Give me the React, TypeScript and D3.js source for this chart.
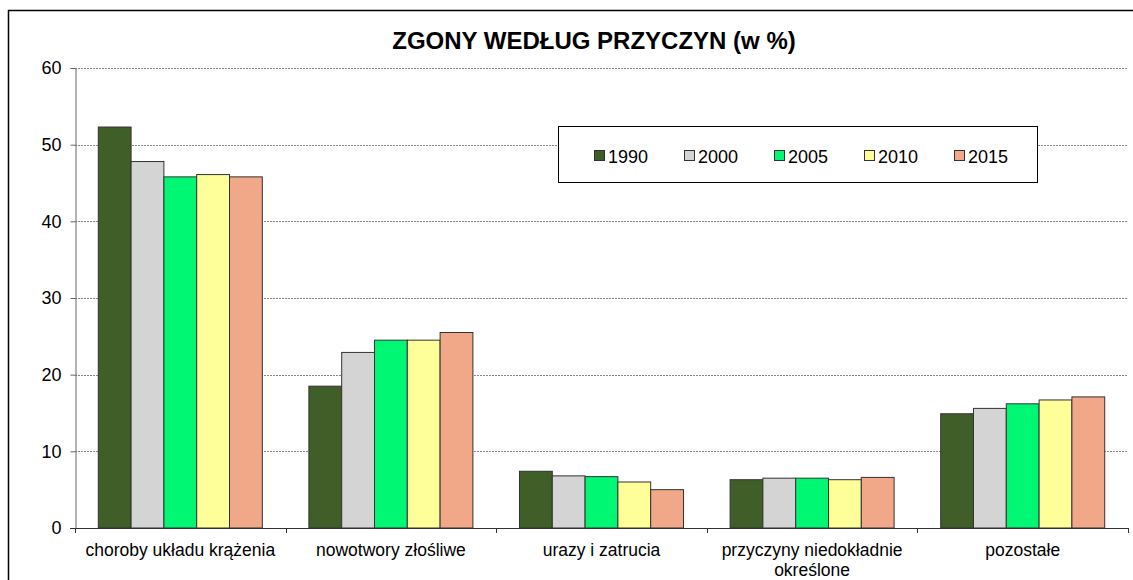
import React, { useRef, useEffect } from "react";
import * as d3 from "d3";

const categories = [
	"choroby układu krążenia",
	"nowotwory złośliwe",
	"urazy i zatrucia",
	"przyczyny niedokładnie|określone",
	"pozostałe",
];
const years = ["1990", "2000", "2005", "2010", "2015"];
const colors = ["#3f5e28", "#d4d4d4", "#00f774", "#ffff99", "#f0a889"];

const values1990 = [52.3, 18.5, 7.4, 6.3, 14.9];
const values2000 = [47.8, 22.9, 6.8, 6.5, 15.6];
const values2005 = [45.8, 24.5, 6.7, 6.5, 16.2];
const values2010 = [46.1, 24.5, 6.0, 6.3, 16.7];
const values2015 = [45.8, 25.5, 5.0, 6.6, 17.1];
const series = [values1990, values2000, values2005, values2010, values2015];

const yTicks = [0, 10, 20, 30, 40, 50, 60];

const App = () => {
	const svgRef = useRef<SVGSVGElement | null>(null);

	useEffect(() => {
		if (!svgRef.current) return;
		const svg = d3.select(svgRef.current);
		svg.selectAll("*").remove();
		const font = "'Liberation Sans', Arial, sans-serif";

		// outer frame
		svg.append("rect")
			.attr("x", 8.5).attr("y", 10.5)
			.attr("width", 1200).attr("height", 700)
			.attr("fill", "#fff").attr("stroke", "#000").attr("stroke-width", 1.5);

		const left = 75, right = 1128, top = 68, bottom = 528;
		const y = d3.scaleLinear().domain([0, 60]).range([bottom, top]);
		const x0 = d3.scaleBand<string>().domain(categories).range([left, right]).padding(0);
		const x1 = d3.scaleBand<string>().domain(years).range([0, x0.bandwidth()])
			.paddingInner(0).paddingOuter(0.71);

		// gridlines
		svg.append("g").selectAll("line")
			.data(yTicks.filter((t) => t > 0))
			.join("line")
			.attr("x1", left).attr("x2", right)
			.attr("y1", (d) => Math.round(y(d)) + 0.5).attr("y2", (d) => Math.round(y(d)) + 0.5)
			.attr("stroke", "#888").attr("stroke-dasharray", "2,1");

		// bars
		const groups = svg.append("g").selectAll("g")
			.data(categories)
			.join("g")
			.attr("transform", (d) => `translate(${x0(d)},0)`);
		groups.selectAll("rect")
			.data((_, i) => years.map((yr, j) => ({ yr, v: series[j][i], c: colors[j] })))
			.join("rect")
			.attr("x", (d) => x1(d.yr)!)
			.attr("y", (d) => y(d.v))
			.attr("width", x1.bandwidth())
			.attr("height", (d) => bottom - y(d.v))
			.attr("fill", (d) => d.c)
			.attr("stroke", "#333")
			.attr("stroke-width", 1);

		// y axis
		const yAxis = d3.axisLeft(y).tickValues(yTicks).tickSize(5).tickPadding(9);
		const gy = svg.append("g").attr("transform", `translate(${left + 0.5},0)`).call(yAxis);
		gy.select(".domain").attr("stroke", "#666");
		gy.selectAll(".tick line").attr("stroke", "#666");
		gy.selectAll(".tick text").attr("font-family", font).attr("font-size", 18).attr("fill", "#000");

		// x axis
		svg.append("line")
			.attr("x1", left - 5).attr("x2", right)
			.attr("y1", bottom + 0.5).attr("y2", bottom + 0.5)
			.attr("stroke", "#333");
		svg.append("g").selectAll("line")
			.data(d3.range(categories.length + 1))
			.join("line")
			.attr("x1", (i) => Math.round(left + i * x0.step()) + 0.5)
			.attr("x2", (i) => Math.round(left + i * x0.step()) + 0.5)
			.attr("y1", bottom).attr("y2", bottom + 5)
			.attr("stroke", "#333");

		svg.append("g").selectAll("text")
			.data(categories)
			.join("text")
			.attr("x", (d) => x0(d)! + x0.bandwidth() / 2)
			.attr("y", 556)
			.attr("text-anchor", "middle")
			.attr("font-family", font)
			.attr("font-size", 17.5)
			.each(function (d) {
				const parts = d.split("|");
				d3.select(this).selectAll("tspan")
					.data(parts)
					.join("tspan")
					.attr("x", x0(d)! + x0.bandwidth() / 2)
					.attr("dy", (_, i) => (i === 0 ? 0 : 20))
					.text((p) => p);
			});

		// title
		svg.append("text")
			.attr("x", 594).attr("y", 49)
			.attr("text-anchor", "middle")
			.attr("font-family", font)
			.attr("font-size", 24)
			.attr("font-weight", "bold")
			.text("ZGONY WEDŁUG PRZYCZYN (w %)");

		// legend
		const legend = svg.append("g");
		legend.append("rect")
			.attr("x", 558.5).attr("y", 126.5)
			.attr("width", 479).attr("height", 56)
			.attr("fill", "#fff").attr("stroke", "#000");
		const items = legend.selectAll("g.item")
			.data(years)
			.join("g")
			.attr("class", "item")
			.attr("transform", (_, i) => `translate(${594 + i * 90},150)`);
		items.append("rect")
			.attr("x", 0.5).attr("y", 0.5)
			.attr("width", 10).attr("height", 10)
			.attr("fill", (_, i) => colors[i])
			.attr("stroke", "#333");
		items.append("text")
			.attr("x", 14).attr("y", 12.5)
			.attr("font-family", font)
			.attr("font-size", 18)
			.text((d) => d);
	}, []);

	return (
		<div style={{ position: "absolute", left: 0, top: 0 }}>
			<svg ref={svgRef} width={1133} height={580} style={{ display: "block" }}></svg>
		</div>
	);
};

export default App;
